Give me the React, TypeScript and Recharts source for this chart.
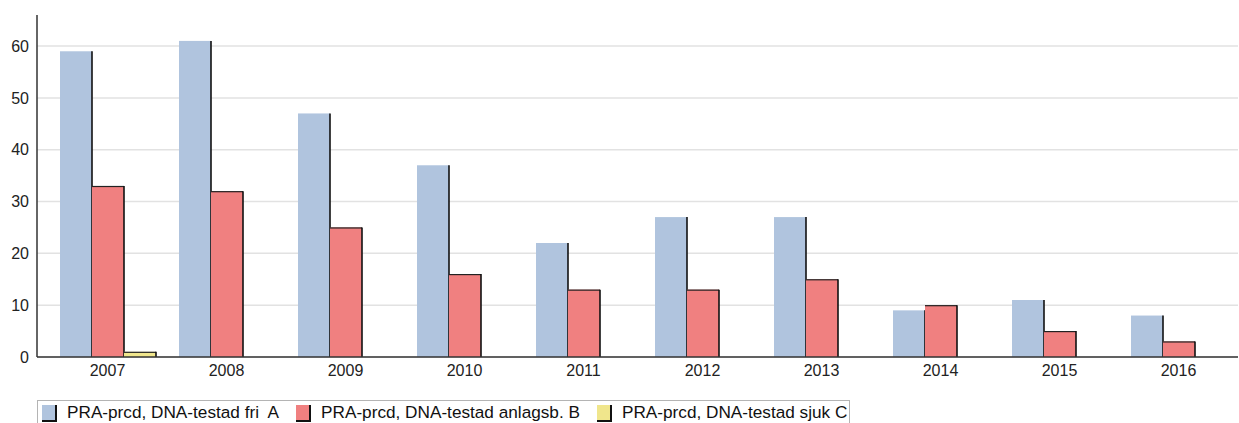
import { BarChart, Bar, XAxis, YAxis, CartesianGrid, Legend } from "recharts";

const years = ["2007", "2008", "2009", "2010", "2011", "2012", "2013", "2014", "2015", "2016"];
const friA = [59, 61, 47, 37, 22, 27, 27, 9, 11, 8];
const anlagsbB = [33, 32, 25, 16, 13, 13, 15, 10, 5, 3];
const sjukC = [1, 0, 0, 0, 0, 0, 0, 0, 0, 0];
const yTicks = [0, 10, 20, 30, 40, 50, 60];
const yMax = 66;

const series = [
  { key: "a", name: "PRA-prcd, DNA-testad fri  A", color: "#B0C4DE", topLine: false },
  { key: "b", name: "PRA-prcd, DNA-testad anlagsb. B", color: "#F08080", topLine: true },
  { key: "c", name: "PRA-prcd, DNA-testad sjuk C", color: "#F0E68C", topLine: true },
];

const data = years.map((year, i) => ({
  year,
  a: friA[i],
  b: anlagsbB[i],
  c: sjukC[i],
}));

const font = "'Liberation Sans', Arial, sans-serif";

// fill plus dark edge on the right (and on top for the last two series)
const makeShape = (topLine: boolean) => (props: any) => {
  const { x, y, width, height, fill } = props;
  if (!height || height <= 0) return <g />;
  return (
    <g>
      <rect x={x} y={y} width={width} height={height} fill={fill} />
      {topLine && (
        <line x1={x} y1={y + 0.5} x2={x + width} y2={y + 0.5} stroke="#222" strokeWidth={1.2} />
      )}
      <line x1={x + width} y1={y} x2={x + width} y2={y + height} stroke="#111" strokeWidth={1.6} />
    </g>
  );
};

const LegendBox = () => (
  <div
    style={{
      display: "flex",
      alignItems: "center",
      height: 23,
      boxSizing: "border-box",
      border: "1px solid #b4b4b4",
      borderBottom: "none",
      paddingLeft: 4,
      paddingRight: 2,
      fontFamily: font,
      fontSize: 17.2,
      color: "#111",
      whiteSpace: "pre",
    }}
  >
    {series.map((s, i) => (
      <div key={s.key} style={{ display: "flex", alignItems: "center", marginRight: i < series.length - 1 ? 17 : 0 }}>
        <div
          style={{
            width: 13,
            height: 15,
            background: s.color,
            borderRight: "2px solid #111",
            borderBottom: "2px solid #111",
            marginRight: 10,
            marginTop: 2,
          }}
        />
        <span>{s.name}</span>
      </div>
    ))}
  </div>
);

// grid only at the labelled ticks, not at the top of the domain
const gridRows = ({ offset }: any) =>
  yTicks.map((t) => offset.top + offset.height * (1 - t / yMax));

export default function App() {
  return (
    <div style={{ position: "absolute", left: 0, top: 0, background: "#fff" }}>
      <BarChart
        width={1239}
        height={423}
        data={data}
        margin={{ top: 15, right: 1, left: 0, bottom: 13 }}
        barGap={0}
      >
        <CartesianGrid
          vertical={false}
          horizontalCoordinatesGenerator={gridRows}
          stroke="#e2e2e2"
          strokeWidth={1.5}
        />
        <XAxis
          dataKey="year"
          height={30}
          padding={{ left: 11, right: 0 }}
          tickLine={false}
          axisLine={{ stroke: "#333", strokeWidth: 1.5 }}
          tick={{ fontSize: 16, fill: "#222", fontFamily: font }}
        />
        <YAxis
          width={37}
          domain={[0, yMax]}
          ticks={yTicks}
          tickLine={false}
          axisLine={{ stroke: "#333", strokeWidth: 1.5 }}
          tick={{ fontSize: 16, fill: "#222", fontFamily: font }}
        />
        <Legend
          content={() => <LegendBox />}
          wrapperStyle={{ position: "absolute", left: 37, top: 400, width: "auto" }}
        />
        {series.map((s) => (
          <Bar
            key={s.key}
            dataKey={s.key}
            name={s.name}
            fill={s.color}
            barSize={32}
            shape={makeShape(s.topLine)}
            isAnimationActive={false}
          />
        ))}
      </BarChart>
    </div>
  );
}
